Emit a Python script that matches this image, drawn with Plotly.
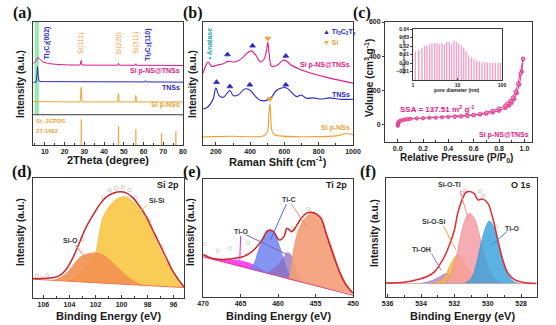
import plotly.graph_objects as go

W, H = 556, 325
SANS = "Liberation Sans, Arial, Helvetica, sans-serif"
SERIF = "Liberation Serif, Times New Roman, serif"
MAG = "#e3198a"
BLUE = "#2828c4"
ORG = "#f0a034"
TEAL = "#1ea5a0"
AX = "#3a3a3a"

# ---------------- (a) XRD ----------------
xrd_comp_x = [4.2, 5.5, 6.5, 7.5, 9.0, 12.0, 16.0, 22.0, 27.9, 28.4, 28.9, 35.0, 46.9, 47.3, 47.7,
              55.7, 56.1, 56.5, 60.6, 61.0, 61.4, 70.0, 80.0]
xrd_comp_y = [66.5, 68.0, 71.2, 69.5, 67.5, 66.2, 65.5, 65.1, 65.0, 68.7, 65.0, 64.9, 64.9, 66.6, 64.9,
              64.8, 66.1, 64.8, 64.8, 65.4, 64.8, 64.7, 64.6]
xrd_tns_x = [4.2, 5.6, 6.0, 6.3, 6.6, 7.1, 9.0, 20.0, 40.0, 60.6, 61.0, 61.4, 80.0]
xrd_tns_y = [50.8, 51.2, 57.0, 63.7, 56.0, 51.8, 51.5, 51.4, 51.3, 51.3, 52.3, 51.3, 51.1]
xrd_si_x = [4.2, 27.9, 28.4, 28.9, 46.9, 47.3, 47.7, 55.7, 56.1, 56.5, 80.0]
xrd_si_y = [35.2, 35.0, 46.9, 35.0, 35.0, 42.2, 35.0, 35.0, 40.2, 35.0, 35.0]
jcpds_pos = [28.44, 47.30, 56.12, 69.13, 76.38]
jcpds_int = [21.0, 15.5, 13.0, 9.8, 11.1]
xrd_divider = 24.6

# ---------------- (b) Raman ----------------
raman_comp_x = [126, 142, 155, 175, 204, 243, 272, 311, 350, 379, 408, 433, 460, 480, 495, 503, 511, 522,
                534, 563, 592, 612, 641, 689, 767, 864, 1000]
raman_comp_y = [58.5, 64.8, 67.5, 63.9, 64.8, 66.1, 68.0, 67.5, 70.2, 74.3, 76.5, 73.0, 67.5, 69.5, 76.0,
                83.5, 74.0, 64.5, 63.9, 65.3, 68.9, 68.3, 64.8, 61.5, 57.9, 54.4, 50.3]
raman_tns_x = [126, 155, 184, 200, 219, 243, 282, 301, 330, 369, 398, 427, 456, 491, 524, 553, 583, 612,
               641, 670, 699, 728, 767, 816, 864, 922, 1000]
raman_tns_y = [29.2, 31.1, 37.4, 46.2, 40.2, 38.8, 44.3, 40.2, 40.7, 45.6, 44.8, 40.2, 36.6, 36.1, 38.8,
               44.3, 46.4, 46.4, 42.9, 39.3, 40.7, 38.0, 38.3, 37.4, 38.3, 37.2, 37.2]
raman_si_x = [126, 282, 476, 499, 509, 515, 520, 534, 573, 767, 903, 961, 1000]
raman_si_y = [6.6, 7.1, 7.4, 10.1, 25.1, 33.3, 23.8, 9.3, 7.4, 6.8, 7.4, 9.3, 8.2]
raman_ti_mark_x = [268, 414, 608, 204, 282, 398, 608]
raman_ti_mark_y = [73.5, 80.6, 72.4, 51.1, 47.5, 48.9, 48.9]
raman_si_mark_x = [503, 515]
raman_si_mark_y = [86.6, 37.4]

# ---------------- (c) N2 isotherm ----------------
iso_ads_p = [0.001, 0.003, 0.006, 0.01, 0.02, 0.04, 0.06, 0.08, 0.1, 0.15, 0.2, 0.25, 0.3, 0.35, 0.4,
             0.45, 0.5, 0.55, 0.6, 0.65, 0.7, 0.75, 0.8, 0.85, 0.88, 0.9, 0.92, 0.94, 0.96, 0.98, 0.99]
iso_ads_v = [-5, 5, 12, 18, 24, 28, 31, 33, 35, 37, 39, 41, 42, 44, 46, 48, 50, 53, 56, 60, 65, 72, 82,
             98, 112, 128, 150, 185, 235, 310, 385]
iso_des_p = [0.99, 0.97, 0.95, 0.93, 0.91, 0.89, 0.87, 0.85, 0.8, 0.75, 0.7, 0.65, 0.6, 0.55, 0.5, 0.45]
iso_des_v = [385, 300, 240, 195, 160, 140, 125, 113, 95, 82, 72, 64, 58, 53, 50, 48]
pore_d = [1.13, 1.34, 1.59, 1.83, 2.06, 2.37, 2.67, 3.07, 3.46, 3.91, 4.48, 5.06, 5.71, 6.55, 7.39, 8.34,
          9.42, 10.6, 12.2, 13.8, 15.5, 17.8, 20.5, 23.5, 27.0, 31.0, 35.5, 40.8, 46.8, 53.7, 61.7, 70.8,
          81.3, 91.8]
pore_dv = [0.0137, 0.0155, 0.018, 0.020, 0.021, 0.022, 0.0228, 0.0236, 0.0236, 0.022, 0.0228, 0.022,
           0.0247, 0.0254, 0.0218, 0.0265, 0.0247, 0.0228, 0.021, 0.018, 0.0137, 0.0093, 0.0064, 0.0046,
           0.0028, 0.0017, 0.0009, 0.0009, 0.0006, 0.0006, 0.0002, 0.0002, 0.0002, 0.0002]

# ---------------- (d) Si 2p ----------------
si_env_e = [106.8, 106.0, 105.2, 104.7, 104.2, 103.7, 103.2, 102.7, 102.1, 101.6, 101.1, 100.6, 100.1,
            99.6, 99.1, 98.6, 98.1, 97.6, 97.1, 96.6, 96.1, 95.5, 95.2]
si_env_v = [58, 58, 61, 68, 88, 123, 168, 213, 253, 283, 303, 313, 317, 313, 298, 273, 243, 203, 163,
            123, 83, 48, 33]
si_sisi_e = [104.2, 103.7, 103.2, 102.7, 102.3, 102.0, 101.7, 101.4, 100.6, 99.8, 99.1, 98.1, 97.1,
             96.3, 95.5, 95.2]
si_sisi_v = [50, 55, 72, 95, 118, 136, 195, 243, 288, 303, 288, 238, 153, 93, 48, 31]
si_sio_e = [105.2, 104.9, 104.4, 103.9, 103.4, 102.9, 102.0, 101.4, 100.9, 100.1, 99.35, 98.6, 98.4]
si_sio_v = [53, 58, 68, 88, 113, 128, 135, 128, 113, 83, 58, 41, 38]
si_base_e = [106.8, 95.2]
si_base_v = [56, 31]
si_pts_e = [106.5, 106.1, 105.7, 105.4, 103.0, 101.4, 100.9, 100.4, 99.9, 99.4, 98.9, 98.4, 97.9, 97.4,
            96.9, 96.4, 95.9, 95.4]
si_pts_v = [66, 60, 68, 56, 175, 300, 322, 328, 330, 322, 300, 255, 232, 182, 152, 102, 60, 40]

# ---------------- (e) Ti 2p ----------------
ti_env_e = [470.0, 468.7, 467.3, 466.0, 464.7, 463.8, 462.9, 462.0, 461.5, 461.1, 460.6, 459.8, 459.2,
            458.8, 458.2, 457.6, 456.9, 456.2, 455.6, 454.9, 454.2, 453.6, 452.7, 451.8, 450.9, 450.0]
ti_env_v = [127, 115, 112, 115, 120, 130, 148, 175, 195, 200, 195, 170, 180, 205, 195, 210, 235, 250,
            253, 248, 232, 190, 130, 75, 35, 12]
ti_base_e = [470.0, 450.0]
ti_base_v = [120, 5]
ti_o1_e = [469.8, 468.0, 466.5, 465.0, 463.5, 462.5, 461.5, 460.8]
ti_o1_v = [119, 112, 111, 108, 98, 86, 74, 67]
ti_c1_e = [463.8, 463.2, 462.6, 462.0, 461.5, 461.0, 460.5, 460.0, 459.5, 459.0, 458.5, 458.2]
ti_c1_v = [84, 100, 140, 175, 193, 198, 190, 165, 130, 95, 65, 52]
ti_o2_e = [461.3, 460.5, 459.8, 459.2, 458.7, 458.2, 457.7, 457.2, 456.8]
ti_o2_v = [72, 85, 100, 120, 132, 122, 95, 62, 44]
ti_c2_e = [458.6, 458.4, 457.8, 457.1, 456.4, 455.5, 454.4, 453.6, 452.7, 451.8, 450.9, 450.0]
ti_c2_v = [52, 70, 155, 210, 235, 250, 238, 195, 140, 80, 38, 8]
ti_pts_e = [469.8, 468.0, 466.4, 464.0, 458.0, 457.6, 456.0, 454.4, 450.7]
ti_pts_v = [158, 138, 145, 162, 205, 198, 262, 240, 32]

# ---------------- (f) O 1s ----------------
o_env_e = [536.1, 535.0, 534.2, 533.6, 533.2, 532.9, 532.6, 532.3, 532.0, 531.8, 531.5, 531.3, 531.1,
           530.8, 530.6, 530.3, 530.0, 529.7, 529.4, 529.1, 528.8, 528.4, 527.9, 527.1]
o_env_v = [42, 44, 52, 62, 75, 95, 120, 155, 200, 250, 295, 312, 315, 308, 290, 292, 280, 235, 170, 110,
           72, 52, 44, 40]
o_base_e = [536.1, 527.05]
o_base_v = [40, 40]
o_tioh_e = [534.2, 533.7, 533.2, 532.8, 532.5, 532.2, 531.9, 531.5, 531.1]
o_tioh_v = [40, 44, 52, 63, 70, 66, 57, 46, 40]
o_siosi_e = [533.5, 533.0, 532.6, 532.3, 532.0, 531.85, 531.6, 531.3, 530.9, 530.5, 530.1]
o_siosi_v = [40, 46, 60, 90, 118, 125, 118, 95, 68, 50, 41]
o_sioti_e = [532.6, 532.3, 532.0, 531.7, 531.4, 531.1, 530.8, 530.5, 530.2, 529.9, 529.5, 529.2]
o_sioti_v = [40, 55, 95, 165, 225, 250, 235, 185, 125, 80, 50, 41]
o_tio_e = [531.4, 531.0, 530.7, 530.4, 530.1, 529.9, 529.6, 529.3, 529.0, 528.7, 528.4, 528.0]
o_tio_v = [40, 55, 95, 160, 212, 227, 205, 150, 95, 60, 45, 40]
o_pts_e = [531.56, 531.36, 530.46, 530.26, 529.5]
o_pts_v = [310, 318, 315, 302, 210]


def sticks(xs, tops, base):
    X, Y = [], []
    for x, t in zip(xs, tops):
        X += [x, x, None]
        Y += [base, t, None]
    return X, Y


def dom_x(a, b):
    return [a / W, b / W]


def dom_y(top, bottom):
    return [1 - bottom / H, 1 - top / H]


fig = go.Figure()


def line(x, y, ax, color, width=1.0, shape="linear"):
    fig.add_trace(go.Scatter(x=x, y=y, xaxis=ax[0], yaxis=ax[1], mode="lines",
                             line=dict(color=color, width=width, shape=shape), hoverinfo="skip"))


def area(x, y, ax, fillcolor, linecolor):
    fig.add_trace(go.Scatter(x=x, y=y, xaxis=ax[0], yaxis=ax[1], mode="lines", fill="toself",
                             fillcolor=fillcolor, line=dict(color=linecolor, width=0.6, shape="spline"),
                             hoverinfo="skip"))


def pts(x, y, ax, color, size=4, symbol="circle-open"):
    fig.add_trace(go.Scatter(x=x, y=y, xaxis=ax[0], yaxis=ax[1], mode="markers",
                             marker=dict(color=color, size=size, symbol=symbol, line=dict(width=0.8, color=color)),
                             hoverinfo="skip"))


A = ("x", "y")
B = ("x2", "y2")
C = ("x3", "y3")
I = ("x4", "y4")
D = ("x5", "y5")
E = ("x6", "y6")
F = ("x7", "y7")

# (a)
line(xrd_comp_x, xrd_comp_y, A, MAG, 1.0)
line(xrd_tns_x, xrd_tns_y, A, BLUE, 1.0)
line(xrd_si_x, xrd_si_y, A, ORG, 1.0)
sx, sy = sticks(jcpds_pos, jcpds_int, 0)
line(sx, sy, A, ORG, 1.2)

# (b)
line(raman_comp_x, raman_comp_y, B, MAG, 1.1, "spline")
line(raman_tns_x, raman_tns_y, B, BLUE, 1.1, "spline")
line(raman_si_x, raman_si_y, B, ORG, 1.1, "spline")
pts(raman_ti_mark_x, raman_ti_mark_y, B, BLUE, 5, "triangle-up")
pts(raman_si_mark_x, raman_si_mark_y, B, ORG, 5, "triangle-down")

# (c)
fig.add_trace(go.Scatter(x=iso_ads_p, y=iso_ads_v, xaxis="x3", yaxis="y3", mode="lines+markers",
                         line=dict(color="#e4388f", width=1), marker=dict(size=3.5, color="#ef6aa8",
                         line=dict(color="#d81b7f", width=0.6)), hoverinfo="skip"))
fig.add_trace(go.Scatter(x=iso_des_p, y=iso_des_v, xaxis="x3", yaxis="y3", mode="lines+markers",
                         line=dict(color="#e4388f", width=1), marker=dict(size=3.5, color="#f38bbb",
                         line=dict(color="#d81b7f", width=0.6)), hoverinfo="skip"))
bx, by = sticks(pore_d, pore_dv, -0.02)
line(bx, by, I, "#f2a2c8", 1.4)

# (d)
area(si_sisi_e, si_sisi_v, D, "rgba(249,200,70,0.92)", "rgba(240,185,50,0.9)")
area(si_sio_e, si_sio_v, D, "rgba(242,146,82,0.92)", "rgba(232,130,70,0.9)")
line(si_base_e, si_base_v, D, "#ec7a55", 1.0)
pts(si_pts_e, si_pts_v, D, "#d9b3b8", 3.5)
line(si_env_e, si_env_v, D, "#c42a2f", 1.5, "spline")

# (e)
area(ti_o1_e, ti_o1_v, E, "rgba(255,50,240,0.9)", "rgba(240,40,220,0.9)")
area(ti_c1_e, ti_c1_v, E, "rgba(110,130,240,0.85)", "rgba(90,110,230,0.9)")
area(ti_o2_e, ti_o2_v, E, "rgba(140,110,190,0.75)", "rgba(120,90,170,0.8)")
area(ti_c2_e, ti_c2_v, E, "rgba(244,160,120,0.92)", "rgba(235,140,100,0.9)")
line(ti_base_e, ti_base_v, E, "#e0407a", 1.0)
pts(ti_pts_e, ti_pts_v, E, "#b8d8b0", 3.5)
line(ti_env_e, ti_env_v, E, "#d0222c", 1.5, "spline")

# (f)
area(o_tioh_e, o_tioh_v, F, "rgba(180,135,210,0.85)", "rgba(160,110,200,0.9)")
area(o_siosi_e, o_siosi_v, F, "rgba(246,178,70,0.85)", "rgba(236,160,50,0.9)")
area(o_sioti_e, o_sioti_v, F, "rgba(244,158,166,0.85)", "rgba(230,130,140,0.9)")
area(o_tio_e, o_tio_v, F, "rgba(50,160,220,0.8)", "rgba(40,140,205,0.9)")
line(o_base_e, o_base_v, F, "#c9a0a8", 0.8)
pts(o_pts_e, o_pts_v, F, "#d8b8c0", 3.5)
line(o_env_e, o_env_v, F, "#e02a2e", 1.5, "spline")

TF = dict(family=SANS, size=7, color="#1a1a1a", weight="bold")
TF_IN = dict(family=SANS, size=5, color="#222", weight="bold")


def xaxis(dom, anchor, rng, tickvals, fmt=None, minor=None):
    d = dict(domain=dom, anchor=anchor, range=rng, tickvals=tickvals, showline=True, linecolor=AX,
             linewidth=1, mirror=True, showgrid=False, zeroline=False, ticks="inside", ticklen=3,
             tickcolor=AX, tickwidth=1, tickfont=TF, automargin=False)
    if fmt:
        d["tickformat"] = fmt
    if minor:
        d["minor"] = minor
    return d


def yaxis(dom, anchor, rng, show=False, tickvals=None, fmt=None, tf=None):
    d = dict(domain=dom, anchor=anchor, range=rng, showline=True, linecolor=AX, linewidth=1, mirror=True,
             showgrid=False, zeroline=False, automargin=False)
    if show:
        d.update(ticks="outside", ticklen=2, tickcolor=AX, tickvals=tickvals, tickfont=tf or TF,
                 showticklabels=True)
        if fmt:
            d["tickformat"] = fmt
    else:
        d.update(ticks="", showticklabels=False)
    return d


top_y = dom_y(22, 145)
fig.update_layout(
    xaxis=xaxis(dom_x(33, 183), "y", [4, 80], [10, 20, 30, 40, 50, 60, 70, 80],
                minor=dict(ticks="inside", ticklen=2, dtick=5, tickcolor=AX)),
    yaxis=yaxis(top_y, "x", [0, 100]),
    xaxis2=xaxis(dom_x(203, 353), "y2", [125, 1000], [200, 400, 600, 800, 1000],
                 minor=dict(ticks="inside", ticklen=2, dtick=100, tickcolor=AX)),
    yaxis2=yaxis(top_y, "x2", [0, 100]),
    xaxis3=xaxis(dom_x(385, 532), "y3", [-0.1, 1.06], [0, 0.2, 0.4, 0.6, 0.8, 1.0], fmt=".1f",
                 minor=dict(ticks="inside", ticklen=2, dtick=0.1, tickcolor=AX)),
    yaxis3=yaxis(dom_y(22, 142), "x3", [-100, 600], True, [0, 200, 400, 600]),
    xaxis4=dict(domain=dom_x(413, 502), anchor="y4", type="log", range=[0, 2], tickvals=[1, 10, 100],
                showline=True, linecolor=AX, linewidth=1, mirror=True, showgrid=False, zeroline=False,
                ticks="inside", ticklen=2, tickcolor=AX, tickfont=TF_IN, automargin=False),
    yaxis4=yaxis(dom_y(29, 80), "x4", [-0.02, 0.04], True, [-0.01, 0, 0.01, 0.02, 0.03, 0.04], ".2f",
                 tf=TF_IN),
    xaxis5=xaxis(dom_x(33, 184), "y5", [106.8, 95.2], [106, 104, 102, 100, 98, 96],
                  minor=dict(ticks="inside", ticklen=2, dtick=1, tickcolor=AX)),
    yaxis5=yaxis(dom_y(178, 298), "x5", [0, 358]),
    xaxis6=xaxis(dom_x(203, 353), "y6", [470, 450], [470, 465, 460, 455, 450]),
    yaxis6=yaxis(dom_y(179, 297), "x6", [0, 352]),
    xaxis7=xaxis(dom_x(386, 537), "y7", [536.1, 527.05], [536, 534, 532, 530, 528],
                 minor=dict(ticks="inside", ticklen=2, dtick=1, tickcolor=AX)),
    yaxis7=yaxis(dom_y(178, 297), "x7", [0, 355]),
)

ann = []


def t(x, y, s, ref, size=7, color="#1a1a1a", bold=True, angle=0, xanchor="center", family=SANS):
    ann.append(dict(x=x, y=y, xref=ref[0], yref=ref[1], text=s, showarrow=False, textangle=angle,
                    xanchor=xanchor, yanchor="middle",
                    font=dict(family=family, size=size, color=color, weight="bold" if bold else "normal")))


P = ("paper", "paper")


def tp(xpx, ypx, s, **kw):
    t(xpx / W, 1 - ypx / H, s, P, **kw)


# panel labels
for lab, xp, yp in [("(a)", 22, 13), ("(b)", 193, 13), ("(c)", 362, 13),
                    ("(d)", 22, 172), ("(e)", 192, 172), ("(f)", 368, 172)]:
    tp(xp, yp, lab, size=16, family=SERIF, color="#111")

# axis titles
tp(108, 160, "2Theta (degree)", size=11)
tp(278, 161, "Raman Shift (cm<sup>-1</sup>)", size=11)
tp(456, 158, "Relative Pressure (P/P<sub>0</sub>)", size=10)
tp(108, 316, "Binding Energy (eV)", size=11)
tp(278, 316, "Binding Energy (eV)", size=11)
tp(462, 316, "Binding Energy (eV)", size=11)
tp(20, 84, "Intensity (a.u.)", size=10, angle=-90)
tp(192, 84, "Intensity (a.u.)", size=10, angle=-90)
tp(369, 78, "Volume (cm<sup>3</sup> g<sup>-1</sup>)", size=10, angle=-90)
tp(21, 232, "Intensity (a.u.)", size=10, angle=-90)
tp(191, 232, "Intensity (a.u.)", size=10, angle=-90)
tp(374, 233, "Intensity (a.u.)", size=10, angle=-90)

# (a) texts
t(10.9, 83, "Ti<sub>3</sub>C<sub>2</sub>(002)", A, size=7, color=BLUE, angle=-90)
t(28.4, 83, "Si(111)", A, size=7, color=ORG, bold=False, angle=-90)
t(47.5, 83, "Si(220)", A, size=7, color=ORG, bold=False, angle=-90)
t(56.1, 83, "Si(311)", A, size=7, color=ORG, bold=False, angle=-90)
t(62.2, 82, "Ti<sub>3</sub>C<sub>2</sub>(110)", A, size=7, color=BLUE, angle=-90)
t(79.6, 59.8, "Si p-NS@TNSs", A, size=7, color=MAG, xanchor="right")
t(79.6, 46.9, "TNSs", A, size=7, color=BLUE, xanchor="right")
t(79.6, 32.6, "Si p-NSs", A, size=7, color=ORG, xanchor="right")
t(4.6, 19.4, "Si: JCPDS", A, size=6, color=ORG, xanchor="left")
t(4.6, 11.7, "27-1402", A, size=6, color=ORG, xanchor="left")

# (b) texts
t(161, 82, "• Anatase", B, size=7, color=TEAL, angle=-90)
t(815, 91.5, "▲ Ti<sub>3</sub>C<sub>2</sub>T<sub>x</sub>", B, size=7, color=BLUE, xanchor="left")
t(815, 83.0, "▼ Si", B, size=7, color=ORG, xanchor="left")
t(995, 64.8, "Si p-NS@TNSs", B, size=7, color=MAG, xanchor="right")
t(995, 41.0, "TNSs", B, size=7, color=BLUE, xanchor="right")
t(995, 14.2, "Si p-NSs", B, size=7, color=ORG, xanchor="right")

# (c) texts
t(0.0, 95, "SSA = 137.51 m<sup>2</sup> g<sup>-1</sup>", C, size=8, color=MAG, xanchor="left")
t(1.05, -57, "Si p-NS@TNSs", C, size=7, color=MAG, xanchor="right")
tp(457, 90, "pore diameter (nm)", size=5)
tp(403, 55, "dV/dD (cm<sup>3</sup> g<sup>-1</sup> nm<sup>-1</sup>)", size=4, angle=-90)

# (d) texts
t(95.45, 338, "Si 2p", D, size=9, xanchor="right")
t(97.3, 291, "Si-Si", D, size=7, color="#333")
t(103.9, 171, "Si-O", D, size=7, color="#333")
# (e) texts
t(450.5, 335, "Ti 2p", E, size=9, xanchor="right")
t(458.6, 290, "Ti-C", E, size=7, color="#333")
t(464.9, 196, "Ti-O", E, size=7, color="#333")
# (f) texts
t(527.3, 335, "O 1s", F, size=9, xanchor="right")
t(532.3, 335, "Si-O-Ti", F, size=7, color="#333")
t(533.25, 225, "Si-O-Si", F, size=7, color="#333")
t(533.95, 142, "Ti-OH", F, size=7, color="#333")
t(528.55, 205, "Ti-O", F, size=7, color="#333")

shapes = []


def seg(ref, x0, y0, x1, y1, color, width=1.0):
    shapes.append(dict(type="line", xref=ref[0], yref=ref[1], x0=x0, y0=y0, x1=x1, y1=y1,
                       line=dict(color=color, width=width)))


# (a) green band and divider
shapes.append(dict(type="rect", xref="x", yref="y", x0=4.8, x1=7.0, y0=xrd_divider, y1=100,
                   fillcolor="rgba(120,225,150,0.75)", line=dict(width=0), layer="below"))
seg(A, 4, xrd_divider, 80, xrd_divider, AX, 1.0)

# leader lines
seg(D, 97.95, 278, 99.22, 243, "#f2c23a", 1.0)
seg(D, 103.54, 158, 102.65, 113, "#ef8a52", 1.0)
seg(E, 458.89, 277, 461.02, 170, "#4a6cf0", 1.0)
seg(E, 458.22, 277, 456.0, 205, "#e8906a", 1.0)
seg(E, 464.98, 182, 465.1, 110, "#f020e0", 1.0)
seg(E, 464.22, 185, 458.89, 128, "#8060b0", 1.0)
seg(F, 531.66, 318, 531.16, 230, "#f08a96", 1.0)
seg(F, 532.66, 212, 531.92, 142, "#eea030", 1.0)
seg(F, 533.36, 128, 532.8, 80, "#a070c8", 1.0)
seg(F, 528.86, 195, 529.76, 155, "#2890d0", 1.0)

fig.update_layout(width=W, height=H, margin=dict(l=0, r=0, t=0, b=0), showlegend=False,
                  paper_bgcolor="white", plot_bgcolor="white", annotations=ann, shapes=shapes,
                  font=dict(family=SANS))

fig.write_html("out.html")
